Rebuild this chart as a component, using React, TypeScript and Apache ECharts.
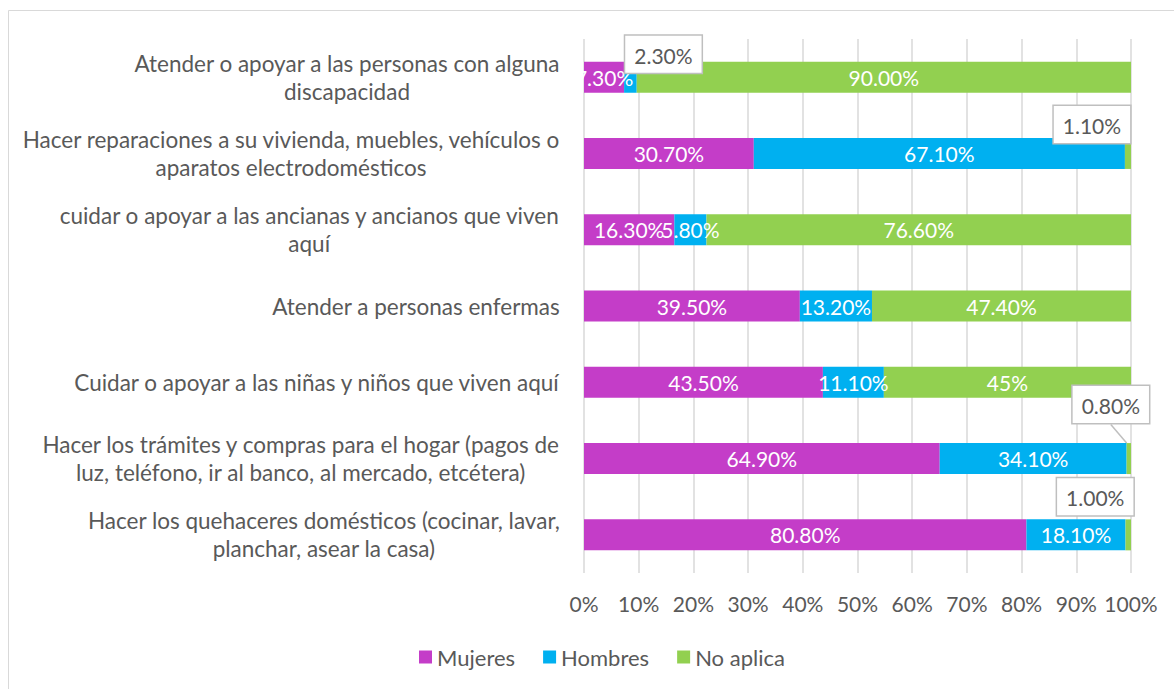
import React, { useEffect, useRef } from "react";
import * as echarts from "echarts";

// bottom-to-top order (category axis)
const categories = [
  "Hacer los quehaceres domésticos (cocinar, lavar,\nplanchar, asear la casa)",
  "Hacer los trámites y compras para el hogar (pagos de\nluz, teléfono, ir al banco, al mercado, etcétera)",
  "Cuidar o apoyar a las niñas y niños que viven aquí",
  "Atender a personas enfermas",
  "cuidar o apoyar a las ancianas y ancianos que viven\naquí",
  "Hacer reparaciones a su vivienda, muebles, vehículos o\naparatos electrodomésticos",
  "Atender o apoyar a las personas con alguna\ndiscapacidad",
];
const mujeres = [80.8, 64.9, 43.5, 39.5, 16.3, 30.7, 7.3];
const hombres = [18.1, 34.1, 11.1, 13.2, 5.8, 67.1, 2.3];
const noAplica = [1.0, 0.8, 45, 47.4, 76.6, 1.1, 90.0];
const mujeresLabels = ["80.80%", "64.90%", "43.50%", "39.50%", "16.30%", "30.70%", "7.30%"];
const hombresLabels = ["18.10%", "34.10%", "11.10%", "13.20%", "5.80%", "67.10%", "2.30%"];
const noAplicaLabels = ["1.00%", "0.80%", "45%", "47.40%", "76.60%", "1.10%", "90.00%"];
const xTicks = [0, 10, 20, 30, 40, 50, 60, 70, 80, 90, 100];
const seriesNames = ["Mujeres", "Hombres", "No aplica"];
const colors = ["#C43DC8", "#00B0F0", "#92D050"];

// callouts for small segments: [seriesIndex, categoryIndex, dx, dy, showPointer]
const callouts: [number, number, number, number, boolean][] = [
  [1, 6, 33, 11, false],
  [2, 5, -36, 5, false],
  [2, 1, -18, -20, true],
  [2, 0, -33, -4, false],
];

const FONT = "Lato, 'Open Sans', sans-serif";
const GRAY = "#595959";

export default function App() {
  const ref = useRef<HTMLDivElement>(null);
  useEffect(() => {
    document.body.style.margin = "0";
    if (!ref.current) return;
    const chart = echarts.init(ref.current, undefined, { renderer: "svg" });
    const sums = categories.map((_, i) => mujeres[i] + hombres[i] + noAplica[i]);
    const raw = [mujeres, hombres, noAplica];
    const labels = [mujeresLabels, hombresLabels, noAplicaLabels];
    const gridLeft = 584;

    const series = raw.map((arr, s) => ({
      type: "bar",
      name: seriesNames[s],
      stack: "total",
      barWidth: 31,
      itemStyle: { color: colors[s] },
      label: {
        show: true,
        position: "inside",
        color: "#ffffff",
        fontSize: 21,
        fontFamily: FONT,
        formatter: (p: any) => labels[s][p.dataIndex],
      },
      labelLine: { show: false },
      labelLayout: (p: any) => {
        const c = callouts.find((c) => c[0] === s && c[1] === p.dataIndex);
        return c ? { dx: c[2], dy: c[3] } : {};
      },
      z: 2,
      data: arr.map((v, i) => {
        const c = callouts.find((c) => c[0] === s && c[1] === i);
        const item: any = { value: (v / sums[i]) * 100 };
        if (c) {
          item.label = {
            show: true,
            position: "top",
            distance: 0,
            color: GRAY,
            backgroundColor: "#ffffff",
            borderColor: "#bfbfbf",
            borderWidth: 1.5,
            padding: [9, 9, 7, 9],
            fontSize: 21,
            fontFamily: FONT,
          };
          if (c[4]) {
            item.labelLine = { show: true, lineStyle: { color: "#bfbfbf", width: 1.5 } };
          }
        }
        return item;
      }),
    }));

    chart.setOption({
      animation: false,
      textStyle: { fontFamily: FONT },
      grid: { left: gridLeft, right: 43, top: 39, bottom: 116, containLabel: false },
      legend: {
        data: seriesNames,
        left: 414,
        top: 641,
        icon: "rect",
        itemWidth: 13,
        itemHeight: 13,
        itemGap: 28,
        textStyle: { color: GRAY, fontSize: 22, fontFamily: FONT },
      },
      xAxis: {
        type: "value",
        min: 0,
        max: 100,
        interval: 10,
        axisLine: { show: false },
        axisTick: { show: false },
        splitLine: { show: true, lineStyle: { color: "#d9d9d9", width: 1.5 } },
        axisLabel: {
          color: GRAY,
          fontSize: 21,
          fontFamily: FONT,
          margin: 20,
          formatter: (v: number) => (xTicks.includes(v) ? v + "%" : ""),
        },
      },
      yAxis: {
        type: "category",
        data: categories,
        axisLine: { show: false },
        axisTick: { show: false },
        axisLabel: {
          interval: 0,
          margin: 24,
          color: GRAY,
          fontSize: 22.5,
          fontFamily: FONT,
          formatter: (v: string) => v.split("\n").map((l) => `{c|${l}}`).join("\n"),
          rich: {
            c: { align: "center", color: GRAY, fontSize: 22.5, fontFamily: FONT, lineHeight: 28 },
          },
        },
      },
      series,
    });

    // clip the first (top) bar's left overflowing label at the plot edge, like the reference
    const topY = chart.convertToPixel({ yAxisIndex: 0 }, categories[6]) as number;
    chart.setOption({
      graphic: [
        {
          type: "rect",
          shape: { x: 8.5, y: 10.5, width: 1200, height: 700 },
          style: { fill: "none", stroke: "#d9d9d9", lineWidth: 1 },
          silent: true,
        },
        {
          type: "rect",
          z: 100,
          shape: { x: gridLeft - 16, y: topY - 15, width: 15.2, height: 30 },
          style: { fill: "#ffffff" },
          silent: true,
        },
      ],
    });

    return () => chart.dispose();
  }, []);
  return <div ref={ref} style={{ width: 1174, height: 689 }} />;
}
